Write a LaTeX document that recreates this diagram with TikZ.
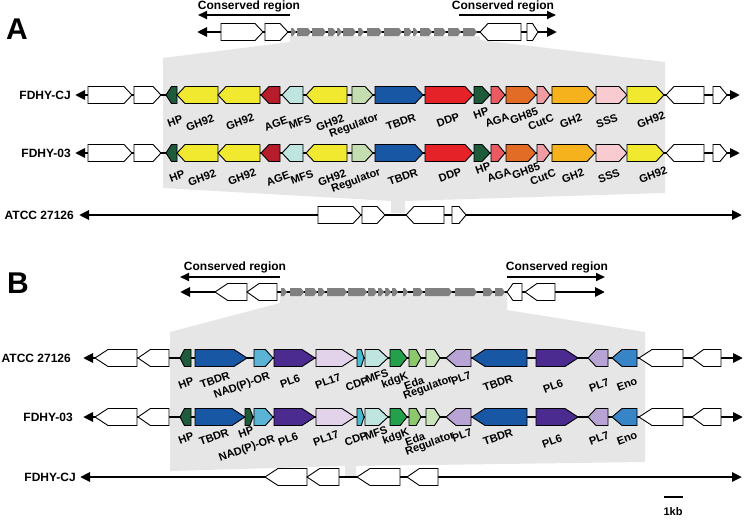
\documentclass[tikz,border=0pt]{standalone}
\usepackage{fontspec}
\setmainfont{Liberation Sans}
\usetikzlibrary{arrows.meta}
\definecolor{region}{HTML}{E6E6E6}
\definecolor{seggrey}{HTML}{808080}
\definecolor{hpg}{HTML}{1E5B3B}
\definecolor{gh92}{HTML}{F0E930}
\definecolor{age}{HTML}{B71C2B}
\definecolor{mfs}{HTML}{BFE5E1}
\definecolor{regA}{HTML}{C4DDB1}
\definecolor{tbdr}{HTML}{1857A4}
\definecolor{ddp}{HTML}{E62229}
\definecolor{aga}{HTML}{EB5A60}
\definecolor{gh85}{HTML}{E26B26}
\definecolor{cutc}{HTML}{F19CA3}
\definecolor{gh2}{HTML}{F5B21C}
\definecolor{sss}{HTML}{F7CBCF}
\definecolor{nad}{HTML}{5BB3D5}
\definecolor{pl6}{HTML}{4B2B8F}
\definecolor{pl17}{HTML}{E3D3EA}
\definecolor{cdp}{HTML}{45BCD2}
\definecolor{kdgk}{HTML}{24A04B}
\definecolor{eda}{HTML}{8DC86D}
\definecolor{regB}{HTML}{C8E4B8}
\definecolor{pl7}{HTML}{B7A4D4}
\definecolor{eno}{HTML}{3784C7}

% gene arrows: #1 start, #2 end, #3 row, #4 fill
\newcommand{\tiplen}{8}
\newcommand{\tipfrac}{0.5}
\newcommand{\geneR}[4]{%
  \pgfmathsetmacro\gtip{min(\tiplen,\tipfrac*(#2-#1))}%
  \filldraw[gene,fill=#4] (#1,#3-8.5) -- ({#2-\gtip},#3-8.5) -- (#2,#3)
    -- ({#2-\gtip},#3+8.5) -- (#1,#3+8.5) -- cycle;}
\newcommand{\geneL}[4]{%
  \pgfmathsetmacro\gtip{min(\tiplen,\tipfrac*(#2-#1))}%
  \filldraw[gene,fill=#4] (#2,#3-8.5) -- ({#1+\gtip},#3-8.5) -- (#1,#3)
    -- ({#1+\gtip},#3+8.5) -- (#2,#3+8.5) -- cycle;}

\begin{document}
\begin{tikzpicture}[x=1pt, y=-1pt,
  gene/.style={draw=black, line width=0.9pt},
  seg/.style={fill=seggrey},
  chrom/.style={line width=2.6pt, {Triangle[length=10pt,width=9pt]}-{Triangle[length=10pt,width=9pt]}},
  cons/.style={line width=1.8pt, -{Triangle[length=9pt,width=8pt]}},
  rowname/.style={font=\fontsize{12}{14}\selectfont\bfseries, anchor=east, inner sep=0pt},
  constext/.style={font=\fontsize{12}{14}\selectfont\bfseries, inner sep=0pt},
  glab/.style={font=\fontsize{11}{12}\selectfont\bfseries, rotate=20, inner sep=0pt},
  panel/.style={font=\fontsize{30}{32}\selectfont\bfseries, inner sep=0pt}
]
\useasboundingbox (0,0) rectangle (745,525);

% shaded areas
\fill[region] (290,36) -- (480,36) -- (480,40) -- (665,62) -- (665,193) -- (405,201)
  -- (405,213) -- (391,213) -- (391,201) -- (163,188) -- (163,58) -- (290,42) -- cycle;
\fill[region] (280,293) -- (507,293) -- (507,310) -- (645,332) -- (645,462) -- (356,466)
  -- (356,477) -- (345,477) -- (345,466) -- (170,471) -- (170,332) -- (280,303) -- cycle;

%%% panel A
\node[panel] (pA) at (17,29) {A};

\node[constext] (consA1) at (249,6) {Conserved region};
\node[constext] (consA2) at (503,6) {Conserved region};
\coordinate (cA1s) at (290,15); \coordinate (cA1e) at (198,15);
\coordinate (cA2s) at (459,15); \coordinate (cA2e) at (556,15);
\draw[cons] (cA1s) -- (cA1e);
\draw[cons] (cA2s) -- (cA2e);

\coordinate (tAl) at (197,32); \coordinate (tAr) at (557,32);
\draw[chrom] (tAl) -- (tAr);
\foreach \a/\b in {291/296,297/311,312/326,328/336,337/342,343/356,358/364,367/382,
  384/402,404/412,413/418,420/432,434/446,448/461,463/477}
  \fill[seg] (\a,28) -- (\b-3,28) -- (\b,32) -- (\b-3,36) -- (\a,36) -- cycle;
\foreach \d/\a/\b in {R/221/263,R/265/288,L/480/521,R/527/538}
  {\csname gene\d\endcsname{\a}{\b}{32}{white}}

% FDHY-CJ and FDHY-03
\node[rowname] (nA1) at (71,95) {FDHY-CJ};
\node[rowname] (nA2) at (71,153) {FDHY-03};
\foreach \y/\sx/\sy in {95/0/0,153/2/-3}{
  \coordinate (l\y) at (75,\y); \coordinate (r\y) at (740,\y);
  \draw[chrom] (l\y) -- (r\y);
  \foreach \d/\a/\b/\c in {R/88/132/white,R/134/161/white,L/166/177/hpg,L/177/218/gh92,
    L/218/260/gh92,L/261/280/age,L/282/303/mfs,L/306/347/gh92,R/352/373/regA,
    R/375/423/tbdr,R/425/473/ddp,R/474/490/hpg,R/491/505/aga,R/506/536/gh85,
    R/537/550/cutc,R/552/595/gh2,R/596/627/sss,R/627/664/gh92,L/666/704/white,
    R/713/727/white}
    {\csname gene\d\endcsname{\a}{\b}{\y}{\c}}
  \foreach \t/\x/\dy [count=\i] in {HP/175/26,GH92/200/28,GH92/240/27,AGE/276/29,
    MFS/300/27,GH92/330/28,Regulator/354/31,TBDR/401/27,DDP/448/25,HP/481/18,
    AGA/497/25,GH85/524/21,CutC/541/27,GH2/571/26,SSS/607/26,GH92/651/25}
    \node[glab] (labA\y-\i) at (\x+\sx,\y+\dy+\sy) {\t};
}

% ATCC 27126
\node[rowname] (nA3) at (74,215) {ATCC 27126};
\coordinate (lA3) at (79,215); \coordinate (rA3) at (742,215);
\draw[chrom] (lA3) -- (rA3);
\foreach \d/\a/\b in {R/318/361,R/362/385,L/406/444,R/452/466}
  {\csname gene\d\endcsname{\a}{\b}{215}{white}}

%%% panel B
\renewcommand{\tiplen}{13}
\renewcommand{\tipfrac}{0.4}
\node[panel] (pB) at (18,283) {B};

\node[constext] (consB1) at (235,267) {Conserved region};
\node[constext] (consB2) at (557,267) {Conserved region};
\coordinate (cB1s) at (280,277); \coordinate (cB1e) at (180,277);
\coordinate (cB2s) at (507,277); \coordinate (cB2e) at (605,277);
\draw[cons] (cB1s) -- (cB1e);
\draw[cons] (cB2s) -- (cB2e);

\coordinate (tBl) at (180,292); \coordinate (tBr) at (605,292);
\draw[chrom] (tBl) -- (tBr);
\foreach \a/\b in {281/287,290/304,305/317,318/325,327/347,348/367,368/377,378/384,
  385/391,392/398,403/408,413/423,425/452,455/477,483/493,495/505}
  \fill[seg] (\a,288) -- (\b-3,288) -- (\b,292) -- (\b-3,296) -- (\a,296) -- cycle;
\foreach \d/\a/\b in {L/215/247,L/247/277,L/507/522,L/525/555}
  {\csname gene\d\endcsname{\a}{\b}{292}{white}}

% ATCC 27126 and FDHY-03
\node[rowname] (nB1) at (71,358) {ATCC 27126};
\node[rowname] (nB2) at (73,417) {FDHY-03};
\foreach \y in {358,417}{
  \coordinate (l\y) at (83,\y); \coordinate (r\y) at (743,\y);
  \draw[chrom] (l\y) -- (r\y);
  \foreach \d/\a/\b/\c in {L/95/137/white,L/138/169/white,L/180/191/hpg,
    R/254/273/nad,R/274/315/pl6,R/316/355/pl17,R/357/364/cdp,R/365/388/mfs,
    R/390/407/kdgk,R/409/421/eda,R/426/440/regB,L/446/471/pl7,L/472/527/tbdr,
    R/536/578/pl6,L/588/608/pl7,L/612/637/eno,L/639/683/white,L/692/721/white}
    {\csname gene\d\endcsname{\a}{\b}{\y}{\c}}
}
\geneR{195}{247}{358}{tbdr}
\geneR{195}{245}{417}{tbdr}
\geneR{245}{253}{417}{hpg}
\foreach \t/\x/\dy [count=\i] in {HP/186/25,TBDR/215/22,NAD(P)-OR/242/28,PL6/290/23,
  PL17/328/23,CDP/357/26,MFS/377/18,kdgK/395/23,Eda/414/25,Regulator/428/30,
  PL7/461/20,TBDR/498/25,PL6/553/28,PL7/599/27,Eno/627/26}
  \node[glab] (labB1-\i) at (\x,358+\dy) {\t};
\foreach \t/\x/\dy [count=\i] in {HP/186/21,TBDR/214/20,HP/246/15,NAD(P)-OR/247/32,
  PL6/288/22,PL17/326/21,CDP/356/22,MFS/376/16,kdgK/396/20,Eda/415/22,
  Regulator/430/27,PL7/462/18,TBDR/498/20,PL6/552/24,PL7/599/21,Eno/627/21}
  \node[glab] (labB2-\i) at (\x,417+\dy) {\t};

% FDHY-CJ
\node[rowname] (nB3) at (76,477) {FDHY-CJ};
\coordinate (lB3) at (80,477); \coordinate (rB3) at (742,477);
\draw[chrom] (lB3) -- (rB3);
\foreach \d/\a/\b in {L/265/307,L/307/339,L/357/400,L/407/438}
  {\csname gene\d\endcsname{\a}{\b}{477}{white}}

% scale bar
\coordinate (sb1) at (664,497); \coordinate (sb2) at (683,497);
\draw[line width=2pt] (sb1) -- (sb2);
\node[font=\fontsize{11}{12}\selectfont\bfseries, inner sep=0pt] (kb) at (673,512) {1kb};
\end{tikzpicture}
\end{document}
